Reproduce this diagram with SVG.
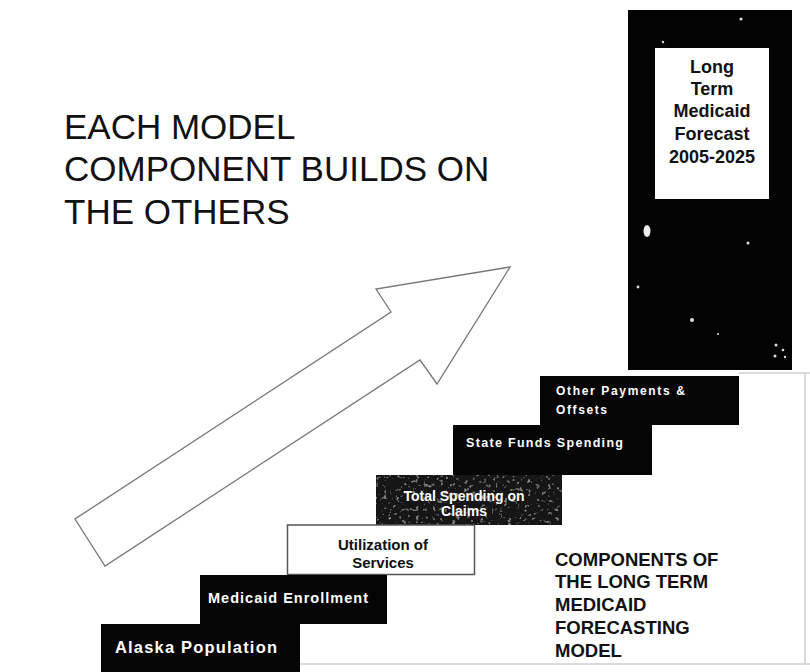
<svg xmlns="http://www.w3.org/2000/svg" width="810" height="672" viewBox="0 0 810 672">
<defs>
<style>
.title{font-family:"Liberation Sans",Arial,sans-serif;font-size:35px;fill:#111}
.sub{font-family:"Liberation Sans",Arial,sans-serif;font-size:18.5px;font-weight:bold;fill:#111}
.door{font-family:"Liberation Sans",Arial,sans-serif;font-size:18px;font-weight:bold;fill:#111;text-anchor:middle}
.step{fill:#050505}
.lbl{font-family:"Liberation Sans",Arial,sans-serif;font-weight:bold;fill:#fff}
.dark{fill:#111}
.speck{fill:#ddd}
.frame{stroke:#cfcfcf;stroke-width:1.5;fill:none}
</style>
<filter id="grain" x="0" y="0" width="100%" height="100%">
<feTurbulence type="fractalNoise" baseFrequency="0.25" numOctaves="2" seed="4" result="n"/>
<feColorMatrix in="n" type="matrix" values="0 0 0 0 0.45 0 0 0 0 0.45 0 0 0 0 0.45 3 0 0 0 -1.85" result="sp"/>
<feComposite in="sp" in2="SourceGraphic" operator="in" result="spc"/>
<feMerge><feMergeNode in="SourceGraphic"/><feMergeNode in="spc"/></feMerge>
</filter>
</defs>
<rect width="810" height="672" fill="#fff"/>
<g id="frame-lines">
<line class="frame" x1="739" y1="373" x2="810" y2="373"/>
<line class="frame" x1="805" y1="373" x2="805" y2="664"/>
<line class="frame" x1="300" y1="664" x2="810" y2="664"/>
</g>
<g id="title">
<text class="title" x="64" y="139">EACH MODEL</text>
<text class="title" x="64" y="181">COMPONENT BUILDS ON</text>
<text class="title" x="64" y="224">THE OTHERS</text>
</g>
<g id="connectors">
<path d="M510,267 L376,289 L391,312 L75,519 L105,566 L420,360 L437,384 Z" fill="#fff" stroke="#777" stroke-width="1.3" stroke-linejoin="miter"/>
</g>
<g id="door-forecast">
<rect x="628" y="10" width="164" height="360" fill="#030303"/>
<rect x="655" y="48" width="114" height="151" fill="#fff"/>
<text class="door" x="712" y="73">Long</text>
<text class="door" x="712" y="95">Term</text>
<text class="door" x="712" y="117">Medicaid</text>
<text class="door" x="712" y="140">Forecast</text>
<text class="door" x="712" y="163">2005-2025</text>
<ellipse cx="647" cy="231" rx="3.5" ry="6" fill="#eee"/>
<circle class="speck" cx="663" cy="42" r="1.2"/>
<circle class="speck" cx="741" cy="19" r="1.6"/>
<circle class="speck" cx="748" cy="243" r="1.5"/>
<circle class="speck" cx="638" cy="287" r="1.4"/>
<circle class="speck" cx="692" cy="320" r="2"/>
<circle class="speck" cx="718" cy="334" r="1"/>
<circle class="speck" cx="776" cy="345" r="1.5"/>
<circle class="speck" cx="783" cy="350" r="1.3"/>
<circle class="speck" cx="775" cy="356" r="1.5"/>
<circle class="speck" cx="785" cy="357" r="1.2"/>
</g>
<g id="step-other-payments">
<rect class="step" x="540" y="376" width="199" height="49"/>
<text class="lbl" x="556" y="395" font-size="12" textLength="129" lengthAdjust="spacing">Other Payments &amp;</text>
<text class="lbl" x="556" y="414" font-size="12" textLength="51" lengthAdjust="spacing">Offsets</text>
</g>
<g id="step-state-funds">
<rect class="step" x="453" y="425" width="199" height="50"/>
<text class="lbl" x="466" y="447" font-size="12.5" textLength="157" lengthAdjust="spacing">State Funds Spending</text>
</g>
<g id="step-total-spending">
<rect x="376" y="475" width="186" height="50" fill="#161616" filter="url(#grain)"/>
<text class="lbl" x="464" y="501" font-size="14" text-anchor="middle">Total Spending on</text>
<text class="lbl" x="464" y="516" font-size="14" text-anchor="middle">Claims</text>
</g>
<g id="step-utilization">
<rect x="287.5" y="525" width="187" height="49.5" fill="#fff" stroke="#555" stroke-width="1.5"/>
<text class="lbl dark" x="383" y="550" font-size="15" text-anchor="middle">Utilization of</text>
<text class="lbl dark" x="383" y="568" font-size="15" text-anchor="middle">Services</text>
</g>
<g id="step-enrollment">
<rect class="step" x="200" y="575" width="187" height="49"/>
<text class="lbl" x="208" y="603" font-size="14.5" textLength="160" lengthAdjust="spacing">Medicaid Enrollment</text>
</g>
<g id="step-population">
<rect class="step" x="101" y="624" width="199" height="48"/>
<text class="lbl" x="115" y="653" font-size="16.5" textLength="162" lengthAdjust="spacing">Alaska Population</text>
</g>
<g id="caption">
<text class="sub" x="555" y="566">COMPONENTS OF</text>
<text class="sub" x="555" y="588">THE LONG TERM</text>
<text class="sub" x="555" y="611">MEDICAID</text>
<text class="sub" x="555" y="634">FORECASTING</text>
<text class="sub" x="555" y="657">MODEL</text>
</g>
</svg>
